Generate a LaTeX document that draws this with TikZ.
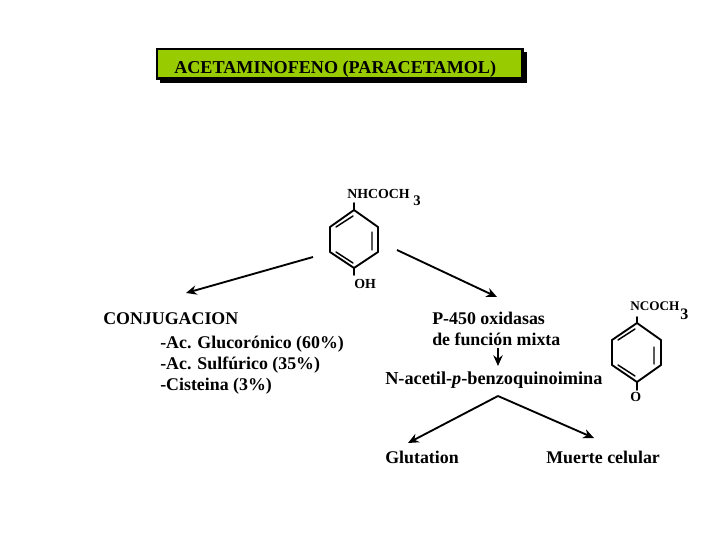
\documentclass[tikz,border=0pt]{standalone}
\usepackage{fontspec}
\setmainfont{Liberation Serif}
\definecolor{boxgreen}{HTML}{99CC00}
\usetikzlibrary{arrows.meta}
\tikzset{
  lbl/.style={inner sep=0pt,anchor=base west,font=\fontsize{13.4pt}{15pt}\selectfont\bfseries,text=black},
  chem/.style={inner sep=0pt,anchor=base west,font=\fontsize{10.4pt}{13pt}\selectfont\bfseries,text=black},
  bond/.style={line width=1.4pt,line cap=round,line join=round},
  inner bond/.style={line width=1.1pt,line cap=round},
  flow/.style={line width=1.4pt,-{Stealth[length=8pt,width=7pt]}},
}
\begin{document}
\begin{tikzpicture}[x=0.75pt,y=-0.75pt]
\useasboundingbox (0,0) rectangle (720,540);
\fill[white] (0,0) rectangle (720,540);
% title
\fill[black] (160,52) rectangle (527,83);
\draw[fill=boxgreen,draw=black,line width=1.7pt] (157,49) rectangle (522.5,78.5);
\node[lbl,font=\fontsize{13.6pt}{15pt}\selectfont\bfseries] (title) at (174,73) {ACETAMINOFENO (PARACETAMOL)};
% paracetamol
\node[chem] (nh) at (347,198) {NHCOCH};
\node[chem,font=\fontsize{11pt}{13pt}\selectfont\bfseries] (nh3) at (413,205) {3};
\node[chem] (oh) at (354,288) {OH};
\coordinate (a0) at (354,203);
\coordinate (a1) at (354,210);
\coordinate (a2) at (378,227);
\coordinate (a3) at (378,252);
\coordinate (a4) at (354,268);
\coordinate (a5) at (330,252);
\coordinate (a6) at (330,227);
\coordinate (a7) at (354,275);
\draw[bond] (a1)--(a2)--(a3)--(a4)--(a5)--(a6)--cycle;
\draw[bond] (a0)--(a1) (a4)--(a7);
\draw[inner bond] (336,227)--(353,216) (372,232)--(372,250) (336,252)--(353,263);
% quinone imine
\node[chem,font=\fontsize{9.9pt}{13pt}\selectfont\bfseries] (nc) at (630,310) {NCOCH};
\node[chem,font=\fontsize{12pt}{13pt}\selectfont\bfseries] (nc3) at (680,319) {3};
\node[chem] (o) at (630,401) {O};
\coordinate (b0) at (637,317);
\coordinate (b1) at (637,323);
\coordinate (b2) at (661,340);
\coordinate (b3) at (661,365);
\coordinate (b4) at (637,382);
\coordinate (b5) at (612,365);
\coordinate (b6) at (612,340);
\coordinate (b7) at (637,390);
\draw[bond] (b1)--(b2)--(b3)--(b4)--(b5)--(b6)--cycle;
\draw[bond] (b0)--(b1) (b4)--(b7);
\draw[inner bond] (618,340)--(635,329) (654,347)--(654,364) (618,365)--(635,376);
% labels
\node[lbl] (conj) at (103,324) {CONJUGACION};
\node[lbl] (l1) at (160,348) {-Ac. Glucorónico (60\%)};
\node[lbl] (l2) at (160,369) {-Ac. Sulfúrico (35\%)};
\node[lbl] (l3) at (160,390) {-Cisteina (3\%)};
\node[lbl] (p1) at (432,324) {P-450 oxidasas};
\node[lbl] (p2) at (432,345) {de función mixta};
\node[lbl,font=\fontsize{13.7pt}{15pt}\selectfont\bfseries] (nap) at (385,384) {N-acetil-\textit{p}-benzoquinoimina};
\node[lbl] (glu) at (385,463) {Glutation};
\node[lbl] (mue) at (546,463) {Muerte celular};
% arrows
\coordinate (s1) at (313,257);
\coordinate (e1) at (186,293);
\coordinate (s2) at (397,250);
\coordinate (e2) at (497,297);
\coordinate (s3) at (498,348);
\coordinate (e3) at (498,366);
\coordinate (s4) at (498,396);
\coordinate (e4) at (408,443);
\coordinate (e5) at (594,438);
\draw[flow] (s1)--(e1);
\draw[flow] (s2)--(e2);
\draw[flow] (s3)--(e3);
\draw[flow] (s4)--(e4);
\draw[flow] (s4)--(e5);
\end{tikzpicture}
\end{document}
